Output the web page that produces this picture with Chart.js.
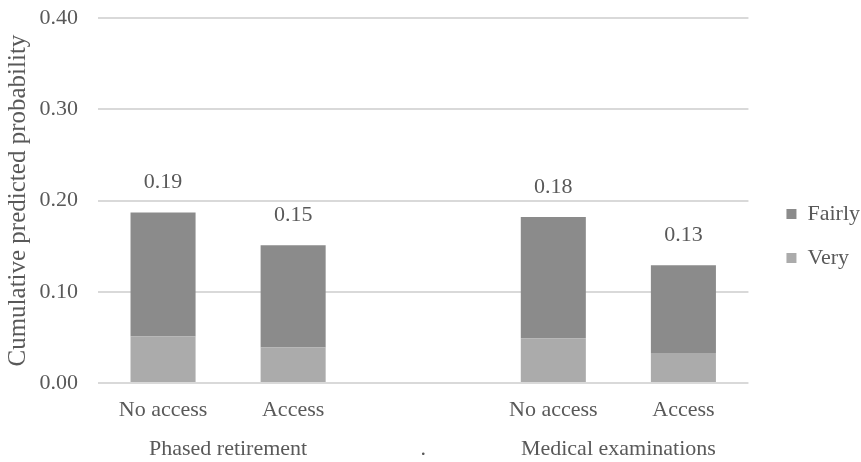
<!DOCTYPE html>
<html>
<head>
<meta charset="utf-8">
<script src="https://cdn.jsdelivr.net/npm/chart.js@4/dist/chart.umd.min.js"></script>
<style>
  html, body { margin: 0; padding: 0; background: #ffffff; }
  #wrap { width: 861px; height: 462px; }
</style>
</head>
<body>
<div id="wrap"><canvas id="probChart"></canvas></div>
<script>
// Data
const categories = ["No access", "Access", "", "No access", "Access"]
const groups = [
  { label: "Phased retirement", from: 0, to: 1 },
  { label: ".", from: 2, to: 2 },
  { label: "Medical examinations", from: 3, to: 4 },
]
const veryValues = [0.051, 0.039, null, 0.049, 0.033]
const fairlyValues = [0.136, 0.112, null, 0.133, 0.096]
const yTicks = [0, 0.1, 0.2, 0.3, 0.4]

const textColor = "#595959"
const gridColor = "#d9d9d9"
const fontFamily = "'Liberation Serif', 'Times New Roman', serif"

// Totals drawn above each stacked bar
const totalLabels = {
  id: "totalLabels",
  afterDatasetsDraw(chart) {
    const ctx = chart.ctx
    const y = chart.scales.y
    const x = chart.scales.x
    ctx.save()
    ctx.font = "22px " + fontFamily
    ctx.fillStyle = textColor
    ctx.textAlign = "center"
    ctx.textBaseline = "middle"
    categories.forEach((_, i) => {
      if (veryValues[i] == null) return
      const total = veryValues[i] + fairlyValues[i]
      ctx.fillText(total.toFixed(2), x.getPixelForValue(i), y.getPixelForValue(total) - 30)
    })
    ctx.restore()
  },
}

// Second row of category labels (group names)
const groupLabels = {
  id: "groupLabels",
  afterDraw(chart) {
    const ctx = chart.ctx
    const x = chart.scales.x
    ctx.save()
    ctx.font = "22px " + fontFamily
    ctx.fillStyle = textColor
    ctx.textAlign = "center"
    ctx.textBaseline = "middle"
    groups.forEach((g) => {
      const cx = (x.getPixelForValue(g.from) + x.getPixelForValue(g.to)) / 2
      ctx.fillText(g.label, cx, x.top + 66)
    })
    ctx.restore()
  },
}

// Extra space between plot area and legend
const legendSpacer = {
  id: "legendSpacer",
  afterInit(chart) {
    const legend = chart.legend
    const fit = legend.fit
    legend.fit = function () {
      fit.call(this)
      this.width += 7
    }
  },
  afterLayout(chart) {
    const legend = chart.legend
    legend.left += 16
    legend.top += 5
    legend.bottom += 5
  },
}

new Chart(document.getElementById("probChart"), {
  type: "bar",
  data: {
    labels: categories,
    datasets: [
      {
        label: "Very",
        data: veryValues,
        backgroundColor: "#ababab",
        barPercentage: 0.5,
        categoryPercentage: 1,
      },
      {
        label: "Fairly",
        data: fairlyValues,
        backgroundColor: "#8b8b8b",
        barPercentage: 0.5,
        categoryPercentage: 1,
      },
    ],
  },
  options: {
    responsive: true,
    maintainAspectRatio: false,
    animation: false,
    layout: {
      padding: 0,
    },
    scales: {
      x: {
        stacked: true,
        afterFit: (axis) => {
          axis.height = 79
        },
        grid: { display: false, drawTicks: false },
        border: { display: false },
        ticks: {
          color: textColor,
          font: { family: fontFamily, size: 22 },
          padding: 14,
          maxRotation: 0,
          autoSkip: false,
        },
      },
      y: {
        stacked: true,
        min: 0,
        max: 0.4,
        afterBuildTicks: (axis) => {
          axis.ticks = yTicks.map((v) => ({ value: v }))
        },
        afterFit: (axis) => {
          axis.width = 98
        },
        grid: { color: gridColor, lineWidth: 2, drawTicks: true, tickLength: 15, tickColor: "rgba(0,0,0,0)" },
        border: { display: false },
        ticks: {
          color: textColor,
          font: { family: fontFamily, size: 22 },
          padding: 5,
          callback: (value) => value.toFixed(2),
        },
        title: {
          display: true,
          text: "Cumulative predicted probability",
          color: textColor,
          font: { family: fontFamily, size: 25 },
          padding: 3,
        },
      },
    },
    plugins: {
      legend: {
        position: "right",
        reverse: true,
        labels: {
          color: textColor,
          font: { family: fontFamily, size: 22 },
          boxWidth: 10,
          boxHeight: 10,
          padding: 22,
        },
      },
      tooltip: { enabled: false },
    },
  },
  plugins: [totalLabels, groupLabels, legendSpacer],
})
</script>
</body>
</html>
